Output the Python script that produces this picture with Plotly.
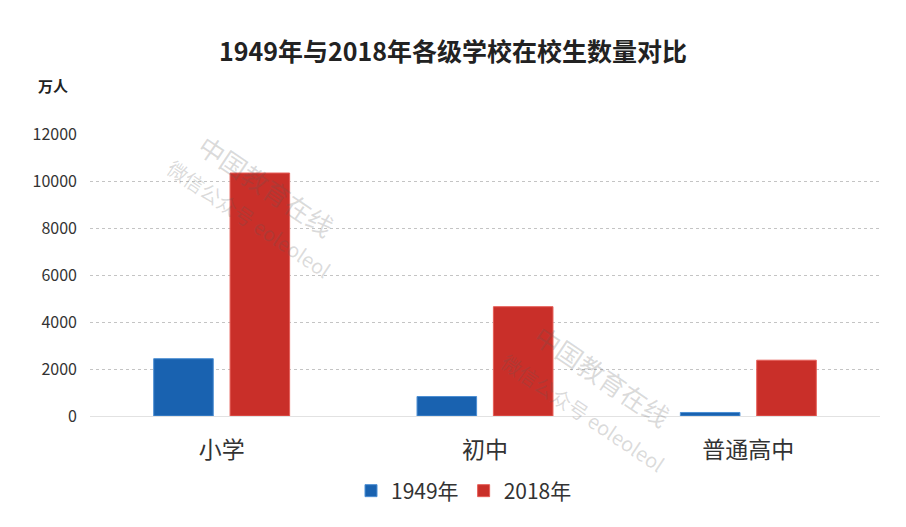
import plotly.graph_objects as go

categories = ["小学", "初中", "普通高中"]
values_1949 = [2439, 830, 150]
values_2018 = [10339, 4652, 2375]
series_names = ["1949年", "2018年"]
y_ticks = [0, 2000, 4000, 6000, 8000, 10000, 12000]

FONT = "Noto Sans CJK SC"

# the page body adds an 8px offset; layout values below compensate for it
W, H = 898, 519
L, T, PW, PH = 82, 126, 790, 282


def px_to_paper(x, y):
    # reference-image pixel -> paper coordinates
    return (x - 8 - L) / PW, (T + PH - (y - 8)) / PH


fig = go.Figure()
fig.add_trace(go.Bar(
    x=categories, y=values_1949, name=series_names[0],
    marker=dict(color="#1962b0", line=dict(color="#4d8fd3", width=1)),
))
fig.add_trace(go.Bar(
    x=categories, y=values_2018, name=series_names[1],
    marker=dict(color="#c92f29", line=dict(color="#e65e58", width=1)),
))

wm_color = "rgba(90,90,90,0.22)"
for (rx, ry, t, s) in [
    (267, 185, "中国教育在线", 26),
    (249, 218, "微信公众号 eoleoleol", 20),
    (603, 375, "中国教育在线", 26),
    (583, 412, "微信公众号 eoleoleol", 20),
]:
    px, py = px_to_paper(rx, ry)
    fig.add_annotation(
        x=px, y=py, xref="paper", yref="paper", text=t, showarrow=False,
        xanchor="center", yanchor="middle",
        textangle=34, font=dict(family=FONT, size=s, color=wm_color),
    )

ux, uy = px_to_paper(53, 85)
fig.add_annotation(
    x=ux, y=uy, xref="paper", yref="paper", text="<b>万人</b>", showarrow=False,
    xanchor="center", yanchor="middle",
    font=dict(family=FONT, size=15, color="#222"),
)

fig.update_layout(
    width=W, height=H,
    paper_bgcolor="white", plot_bgcolor="white",
    margin=dict(l=L, r=W - L - PW, t=T, b=H - T - PH),
    title=dict(text="<b>1949年与2018年各级学校在校生数量对比</b>",
               x=(453 - 8) / W, xref="container", xanchor="center",
               y=1 - 44 / H, yref="container", yanchor="middle",
               font=dict(family=FONT, size=25, color="#222")),
    barmode="group", bargap=0.42, bargroupgap=0.22,
    showlegend=True,
    legend=dict(orientation="h", x=(464 - 8) / W, xref="container", xanchor="center",
                y=1 - 483 / H, yref="container", yanchor="middle",
                font=dict(family=FONT, size=21, color="#333"),
                itemwidth=30, traceorder="normal", tracegroupgap=0),
    font=dict(family=FONT),
)
fig.update_xaxes(
    showgrid=False, showline=False, ticks="", automargin=False,
    tickfont=dict(family=FONT, size=23, color="#333"),
    ticklabelstandoff=18,
)
fig.update_yaxes(
    range=[0, 12000], tickvals=y_ticks, tickformat="d", showgrid=True,
    gridcolor="#c4c4c4", griddash="dot", gridwidth=1, automargin=False,
    zeroline=True, zerolinecolor="#e2e2e2", zerolinewidth=1,
    tickfont=dict(family=FONT, size=16, color="#333"),
    ticklabelstandoff=12, showline=False,
)

fig.write_html("out.html")
